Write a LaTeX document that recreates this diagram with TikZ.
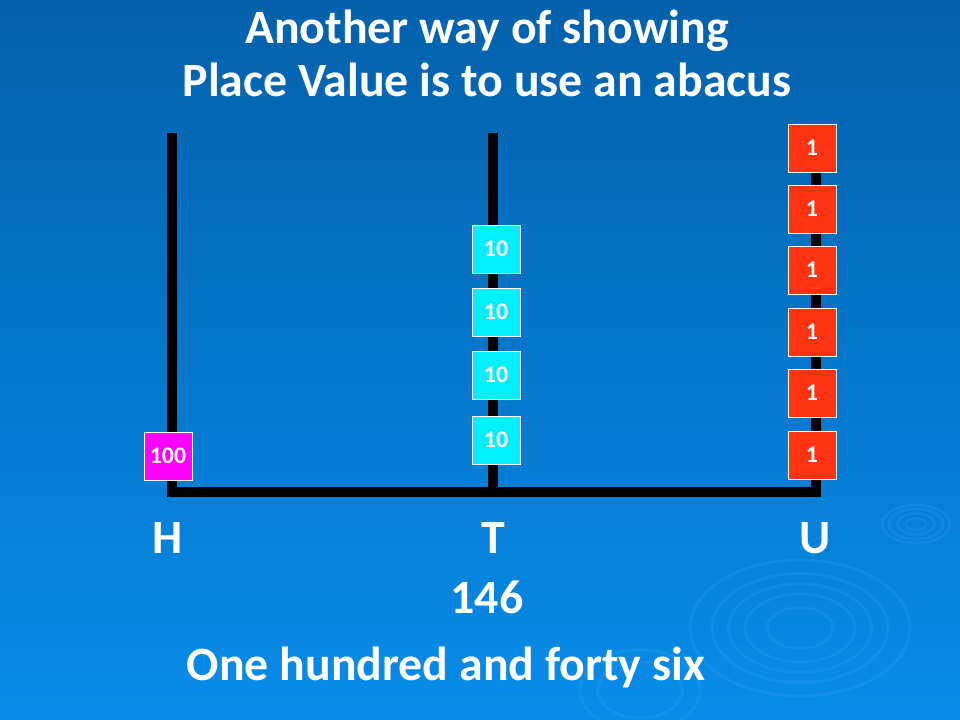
\documentclass[tikz,border=0pt]{standalone}
\usepackage{fontspec}
\setmainfont{Carlito}
\usetikzlibrary{positioning}

\definecolor{bgtop}{HTML}{0461AC}
\definecolor{bgbot}{HTML}{078CE9}
\definecolor{hundred}{HTML}{FF00FF}
\definecolor{ten}{HTML}{00F0FF}
\definecolor{one}{HTML}{FF3311}
\definecolor{ripple}{HTML}{3AA4F4}

\begin{document}
\begin{tikzpicture}
	 [x=0.025cm, y=-0.025cm,
	bead/.style = {draw=white, line width=0.6pt, minimum size=1.2cm, inner sep=0pt, text=white, font=\bfseries\fontsize{17}{17}\selectfont},
	rod/.style = {line width=0.25cm, black},
	label/.style = {text=white, inner sep=0pt, anchor=base, font=\bfseries\fontsize{34}{40}\selectfont},
	ripple/.style = {draw=ripple, line width=2pt, opacity=0.22}
	]
	\shade[top color=bgtop, bottom color=bgbot] (0,0) rectangle (960,720);
	\useasboundingbox (0,0) rectangle (960,720);

	% ripples
	\foreach \r in {0.3,0.5,0.65,0.8,1.0} \draw[ripple] (800,628) ellipse ({110*\r} and {68*\r});
	\foreach \r in {0.3,0.55,0.8,1.0} \draw[ripple] (916,524) ellipse ({34*\r} and {19*\r});
	\foreach \r in {0.7,1.0} \draw[ripple] (640,690) ellipse ({60*\r} and {40*\r});

	\coordinate (Htop) at (172,133);
	\coordinate (Hbot) at (172,492);
	\coordinate (Ttop) at (493,133);
	\coordinate (Tbot) at (493,492);
	\coordinate (Utop) at (816,133);
	\coordinate (Ubot) at (816,492);

	\draw[rod] (Htop) -- (Hbot) -- (Ubot) -- (Utop);
	\draw[rod] (Ttop) -- (Tbot);

	\node[bead, fill=hundred] (h1) at (168,456) {100};
	\foreach \y [count=\i] in {249,312,375,440}
		\node[bead, fill=ten] (t\i) at (496,\y) {10};
	\foreach \y [count=\i] in {148,209,270,332,393,455}
		\node[bead, fill=one] (u\i) at (812,\y) {1};

	\node[label] (title1) at (487,44) {Another way of showing};
	\node[label] (title2) at (487,97) {Place Value is to use an abacus};
	\node[label] (H) at (168,553) {H};
	\node[label] (T) at (493,553) {T};
	\node[label] (U) at (815,553) {U};
	\node[label] (num) at (487,613) {146};
	\node[label] (words) at (446,680) {One hundred and forty six};
\end{tikzpicture}
\end{document}
